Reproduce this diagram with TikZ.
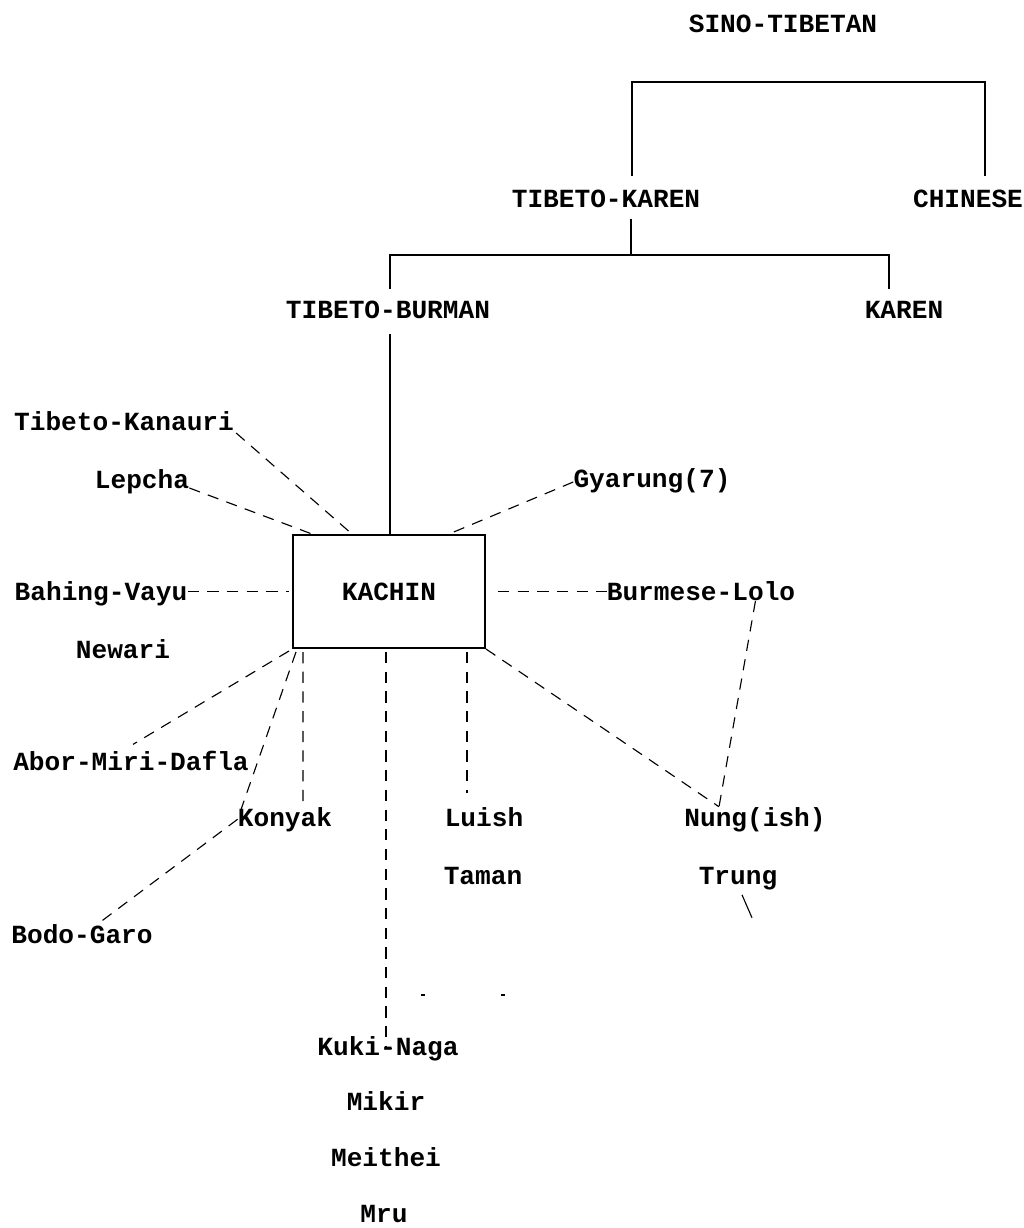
\documentclass[tikz,border=0pt]{standalone}
\usepackage{fontspec}
\setmainfont{Liberation Mono}
\usetikzlibrary{calc}

\begin{document}
\begin{tikzpicture}[x=0.025cm, y=-0.025cm,
        lang/.style={inner sep=0pt, anchor=base, font=\fontsize{18.6}{20}\selectfont\bfseries},
        group/.style={draw, line width=1.4pt, inner sep=0pt, minimum width=4.8cm, minimum height=2.825cm,
            font=\fontsize{18.6}{20}\selectfont\bfseries},
        tree/.style={line width=1.1pt},
        link/.style={line width=0.8pt, dash pattern=on 8pt off 6pt}]
            \useasboundingbox (0,0) rectangle (1024,1228);
            \node[lang] (sino) at (783,33){SINO-TIBETAN};
            \node[lang] (tk) at (606,207){TIBETO-KAREN};
            \node[lang] (chinese) at (968,207){CHINESE};
            \node[lang] (tb) at (388,318){TIBETO-BURMAN};
            \node[lang] (karen) at (904,318){KAREN};
            \node[group] (kachin) at (389,591.5){KACHIN};
            \node[lang] (tibkan) at (124,430){Tibeto-Kanauri};
            \node[lang] (lepcha) at (142,488){Lepcha};
            \node[lang] (gyarung) at (652,487){Gyarung(7)};
            \node[lang] (bahing) at (101,600){Bahing-Vayu};
            \node[lang] (burlolo) at (701,600){Burmese-Lolo};
            \node[lang] (newari) at (123,658){Newari};
            \node[lang] (abor) at (131,770){Abor-Miri-Dafla};
            \node[lang] (konyak) at (285,826){Konyak};
            \node[lang] (luish) at (484,826){Luish};
            \node[lang] (nung) at (755,826){Nung(ish)};
            \node[lang] (taman) at (483,884){Taman};
            \node[lang] (trung) at (738,884){Trung};
            \node[lang] (bodo) at (82,943){Bodo-Garo};
            \node[lang] (kuki) at (388,1055){Kuki-Naga};
            \node[lang] (mikir) at (386,1110){Mikir};
            \node[lang] (meithei) at (386,1166){Meithei};
            \node[lang] (mru) at (384,1222){Mru};
            \coordinate (stjoin) at (808,82);
            \coordinate (tkjoin) at (631,255);
            \coordinate (nungtop) at ($(nung.north)+(-36,0)$);
            \draw[tree] ($(tk.north)+(26,-13)$) |- (stjoin) -| ($(chinese.north)+(17,-13)$);
            \draw[tree] ($(tk.south)+(25,11)$) -- (tkjoin);
            \draw[tree] ($(tb.north)+(2,-11)$) |- (tkjoin) -| ($(karen.north)+(-15,-11)$);
            \draw[tree] ($(tb.south)+(2,15)$) -- ($(kachin.north)+(1,0)$);
            \draw[link] ($(tibkan.base east)+(2,3)$) -- ($(kachin.north west)+(60,0)$);
            \draw[link] (lepcha.base east) -- ($(kachin.north west)+(20,0)$);
            \draw[link] ($(gyarung.base west)+(0,-5)$) -- ($(kachin.north east)+(-37,0)$);
            \draw[link] (bahing.base east |- kachin.west) -- ($(kachin.west)+(-3,0)$);
            \draw[link] ($(kachin.east)+(12,0)$) -- (burlolo.base west |- kachin.east);
            \draw[link] ($(kachin.south west)+(-3,2)$) -- ($(abor.north)+(2,-6)$);
            \draw[link] ($(kachin.south west)+(4,3)$) -- (konyak.west) -- ($(bodo.north)+(16,0)$);
            \draw[link] ($(kachin.south west)+(11,3)$) -- ($(konyak.north)+(18,0)$);
            \draw[link] ($(kachin.south)+(-3,3)$) |- ($(kuki.center)+(4,0)$);
            \draw[link] ($(kachin.south east)+(-19,3)$) -- ($(kachin.south east |- luish.north)+(-19,-14)$);
            \draw[link] (kachin.south east) -- (nungtop);
            \draw[link] ($(burlolo.base east)+(-40,1)$) -- (nungtop);
            \draw[line width=0.8pt] ($(trung.south)+(4,5)$) -- ($(trung.south)+(14,28)$);
            \draw[line width=0.8pt] (421,995) -- (425,995);
            \draw[line width=0.8pt] (501,995) -- (505,995);
        \end{tikzpicture}
\end{document}
